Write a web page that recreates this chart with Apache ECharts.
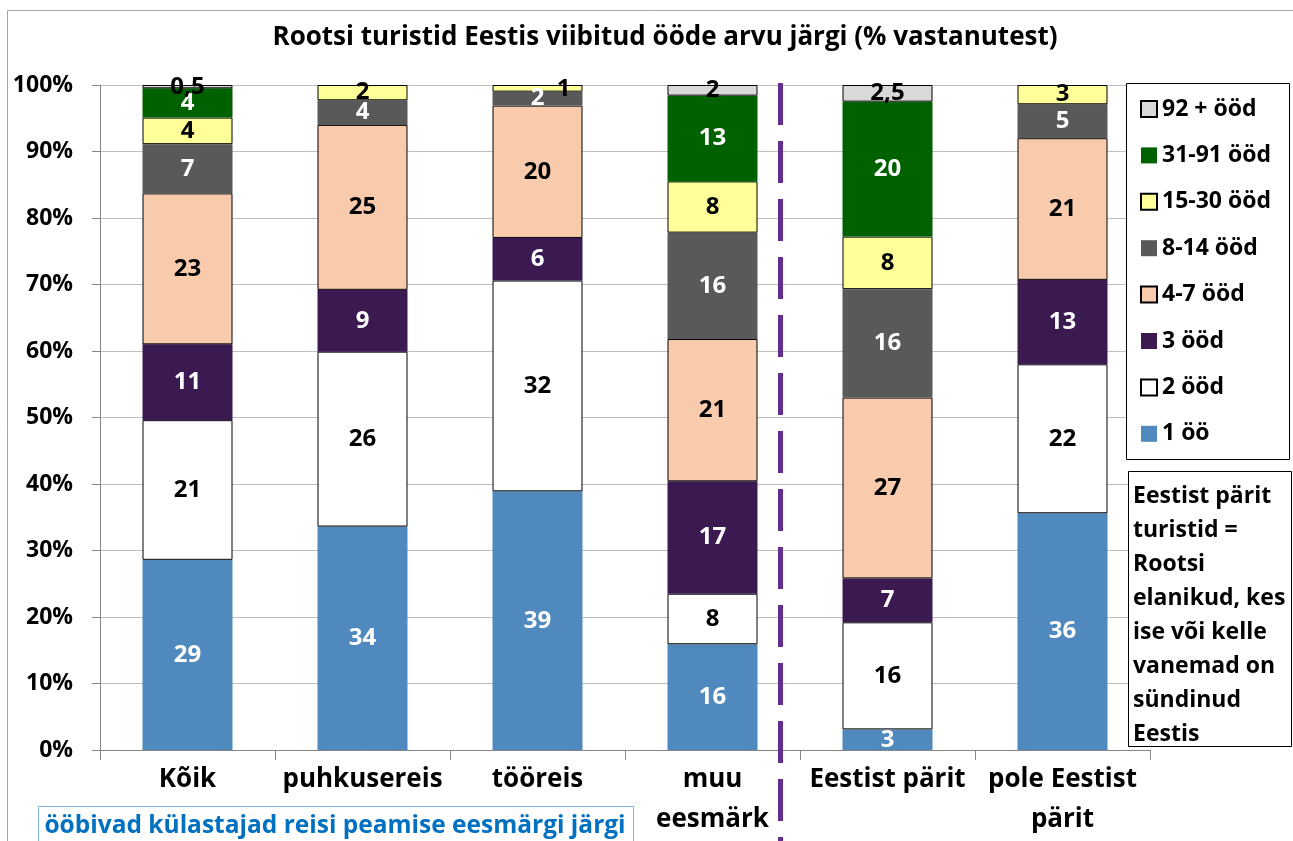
<!DOCTYPE html>
<html>
<head>
<meta charset="utf-8">
<script src="https://cdn.jsdelivr.net/npm/echarts@6/dist/echarts.min.js"></script>
<style>
html,body{margin:0;padding:0;background:#fff;}
#chart{width:1293px;height:841px;}
</style>
</head>
<body>
<div id="chart"></div>
<script>
var categories = ['Kõik', 'puhkusereis', 'tööreis', 'muu\neesmärk', 'Eestist pärit', 'pole Eestist\npärit'];
var seriesNames = ['1 öö', '2 ööd', '3 ööd', '4-7 ööd', '8-14 ööd', '15-30 ööd', '31-91 ööd', '92 + ööd'];
var yTicks = [0, 10, 20, 30, 40, 50, 60, 70, 80, 90, 100];

var night1   = [28.6, 33.6, 38.9, 15.9, 3.1, 35.6];
var nights2  = [21.0, 26.3, 31.7, 7.6, 16.1, 22.4];
var nights3  = [11.4, 9.3, 6.4, 16.9, 6.6, 12.7];
var nights4_7   = [22.7, 24.8, 19.9, 21.4, 27.2, 21.3];
var nights8_14  = [7.4, 3.7, 2.1, 16.0, 16.3, 5.1];
var nights15_30 = [4.0, 2.3, 1.0, 7.7, 7.9, 2.9];
var nights31_91 = [4.4, null, null, 12.9, 20.3, null];
var nights92    = [0.5, null, null, 1.6, 2.5, null];

var titleText = 'Rootsi turistid Eestis viibitud ööde arvu järgi (% vastanutest)';
var noteText = 'Eestist pärit\nturistid =\nRootsi\nelanikud, kes\nise või kelle\nvanemad on\nsündinud\nEestis';
var groupText = 'ööbivad külastajad reisi peamise eesmärgi järgi';

var allData = [night1, nights2, nights3, nights4_7, nights8_14, nights15_30, nights31_91, nights92];
var colors = ['#4F89BD', '#FFFFFF', '#3B1A51', '#F8CBAD', '#595959', '#FFFF99', '#006100', '#D9D9D9'];
var bordered = [false, true, false, true, false, true, false, true];
var labelColors = ['#fff', '#000', '#fff', '#000', '#fff', '#000', '#fff', '#000'];

var FONT = '"Open Sans", Lato, sans-serif';

function fmt(p) {
  var v = p.value;
  if (v == null) return '';
  var d = v * 2;
  if (Math.abs(d - Math.round(d)) < 1e-9 && Math.round(d) % 2 === 1) {
    return String(v).replace('.', ',');
  }
  return String(Math.round(v));
}

var series = allData.map(function (arr, i) {
  return {
    name: seriesNames[i],
    type: 'bar',
    stack: 'total',
    barWidth: 90,
    data: arr.map(function (v, j) {
      var item = { value: v };
      if (i === 5 && j === 2) {
        item.label = { offset: [26, 1] };
      }
      return item;
    }),
    itemStyle: {
      color: colors[i],
      borderColor: bordered[i] ? '#000' : colors[i],
      borderWidth: bordered[i] ? 1 : 0
    },
    label: {
      show: true,
      position: 'inside',
      color: labelColors[i],
      fontFamily: FONT,
      fontWeight: 'bold',
      fontSize: 24,
      formatter: fmt
    },
    emphasis: { disabled: true },
    animation: false
  };
});

var chart = echarts.init(document.getElementById('chart'), null, { renderer: 'canvas' });
chart.setOption({
  animation: false,
  backgroundColor: '#fff',
  title: {
    text: titleText,
    left: 660,
    textAlign: 'center',
    top: 20,
    textStyle: { fontFamily: FONT, fontWeight: 'bold', fontSize: 26, color: '#000' }
  },
  grid: { left: 100, right: 143, top: 85, bottom: 91, containLabel: false },
  legend: {
    orient: 'vertical',
    left: 1140,
    top: 97.5,
    padding: 0,
    itemWidth: 16,
    itemHeight: 16,
    itemGap: 23.4,
    icon: 'rect',
    data: seriesNames.slice().reverse(),
    selectedMode: false,
    textStyle: { fontFamily: FONT, fontWeight: 'bold', fontSize: 23, color: '#000' },
    z: 10
  },
  xAxis: {
    type: 'category',
    data: categories,
    axisLine: { show: true, lineStyle: { color: '#868686', width: 1 } },
    axisTick: { show: true, length: 10, lineStyle: { color: '#868686' } },
    axisLabel: {
      interval: 0,
      margin: 10,
      fontFamily: FONT,
      fontWeight: 'bold',
      fontSize: 26,
      lineHeight: 40,
      color: '#000'
    }
  },
  yAxis: {
    type: 'value',
    min: yTicks[0],
    max: yTicks[yTicks.length - 1],
    interval: 10,
    axisLine: { show: true, lineStyle: { color: '#868686', width: 1 } },
    axisTick: { show: true, inside: false, length: 8, lineStyle: { color: '#868686' } },
    splitLine: { show: true, lineStyle: { color: '#BFBFBF', width: 1 } },
    axisLabel: {
      margin: 27,
      formatter: '{value}%',
      fontFamily: FONT,
      fontWeight: 'bold',
      fontSize: 23,
      color: '#000'
    }
  },
  graphic: [
    { type: 'rect', z: -1, silent: true, shape: { x: 7.5, y: 10.5, width: 1400, height: 900 },
      style: { fill: 'none', stroke: '#A6A6A6', lineWidth: 1 } },
    { type: 'line', z: 5, silent: true, shape: { x1: 780.5, y1: 83, x2: 780.5, y2: 841 },
      style: { stroke: '#662D91', lineWidth: 5, lineDash: [42, 16] } },
    { type: 'rect', z: 5, silent: true, shape: { x: 1126.5, y: 83.5, width: 163, height: 376 },
      style: { fill: '#fff', stroke: '#000', lineWidth: 1 } },
    { type: 'rect', z: 5, silent: true, shape: { x: 1128.5, y: 471.5, width: 163, height: 275 },
      style: { fill: '#fff', stroke: '#000', lineWidth: 1 } },
    { type: 'text', z: 6, silent: true, left: 1133, top: 479,
      style: { text: noteText, fill: '#000', font: 'bold 23px ' + FONT, lineHeight: 34 } },
    { type: 'rect', z: 5, silent: true, shape: { x: 38.5, y: 806.5, width: 595, height: 60 },
      style: { fill: '#fff', stroke: '#7FB2E5', lineWidth: 1 } },
    { type: 'text', z: 6, silent: true, x: 335, y: 826,
      style: { text: groupText, fill: '#0070C0', font: 'bold 24.5px ' + FONT, align: 'center', verticalAlign: 'middle' } }
  ],
  series: series
});
</script>
</body>
</html>
